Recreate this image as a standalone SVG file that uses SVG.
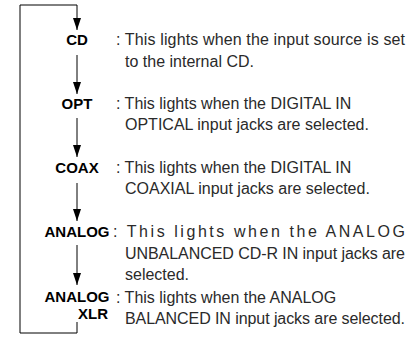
<svg xmlns="http://www.w3.org/2000/svg" width="409" height="338" viewBox="0 0 409 338">
<style>
.lbl{font-family:"Liberation Sans",Arial,sans-serif;font-weight:bold;font-size:15px;fill:#000}
.d{font-family:"Liberation Sans",Arial,sans-serif;font-size:16px;fill:#2a2a2a}
.c{fill:none;stroke:#000;stroke-width:1}
</style>
<defs>
<marker id="a" markerWidth="12" markerHeight="8" refX="12" refY="4" orient="auto" markerUnits="userSpaceOnUse" viewBox="0 0 12 8">
<path d="M0,0 L12,4 L0,8 Z" fill="#000"/>
</marker>
</defs>
<rect width="409" height="338" fill="#fff"/>
<g id="connectors">
<path class="c" d="M77,5 H20 V333 H77 V322" />
<path class="c" d="M77,5 V30" marker-end="url(#a)"/>
<path class="c" d="M77,55 V94" marker-end="url(#a)"/>
<path class="c" d="M77,118 V157" marker-end="url(#a)"/>
<path class="c" d="M77,183 V221" marker-end="url(#a)"/>
<path class="c" d="M77,245 V285" marker-end="url(#a)"/>
</g>
<g id="cd">
<text class="lbl" x="77" y="45" text-anchor="middle">CD</text>
<text class="d" x="116" y="45" textLength="289" lengthAdjust="spacing">: This lights when the input source is set</text>
<text class="d" x="125" y="67">to the internal CD.</text>
</g>
<g id="opt">
<text class="lbl" x="77" y="109" text-anchor="middle">OPT</text>
<text class="d" x="116" y="109">: This lights when the DIGITAL IN</text>
<text class="d" x="125" y="130">OPTICAL input jacks are selected.</text>
</g>
<g id="coax">
<text class="lbl" x="77" y="173" text-anchor="middle">COAX</text>
<text class="d" x="116" y="173">: This lights when the DIGITAL IN</text>
<text class="d" x="125" y="194">COAXIAL input jacks are selected.</text>
</g>
<g id="analog">
<text class="lbl" x="77" y="237" text-anchor="middle">ANALOG</text>
<text class="d" x="113" y="237" textLength="292" lengthAdjust="spacing">: This lights when the ANALOG</text>
<text class="d" x="125" y="259" textLength="280" lengthAdjust="spacing">UNBALANCED CD-R IN input jacks are</text>
<text class="d" x="125" y="280">selected.</text>
</g>
<g id="analog-xlr">
<text class="lbl" x="77" y="302" text-anchor="middle">ANALOG</text>
<text class="lbl" x="108" y="319" text-anchor="end">XLR</text>
<text class="d" x="116" y="303">: This lights when the ANALOG</text>
<text class="d" x="125" y="324" textLength="280" lengthAdjust="spacing">BALANCED IN input jacks are selected.</text>
</g>
</svg>
